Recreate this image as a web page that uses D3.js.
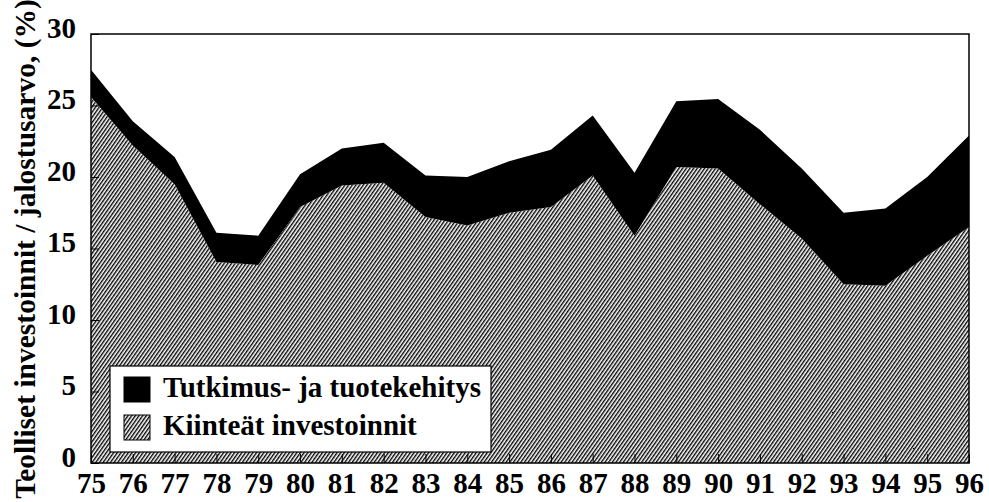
<!DOCTYPE html>
<html>
<head>
<meta charset="utf-8">
<script src="https://d3js.org/d3.v7.min.js"></script>
<style>
  body { margin: 0; background: #fff; }
  text { font-family: "Liberation Serif", "Times New Roman", serif; font-weight: bold; }
</style>
</head>
<body>
<div id="chart"></div>
<script>
// values (% of value added)
var years = [75, 76, 77, 78, 79, 80, 81, 82, 83, 84, 85, 86, 87, 88, 89, 90, 91, 92, 93, 94, 95, 96];
var fixedInv = [25.6, 22.2, 19.5, 14.05, 13.85, 17.9, 19.4, 19.6, 17.2, 16.6, 17.5, 17.9, 20.1, 15.9, 20.7, 20.6, 18.1, 15.7, 12.5, 12.4, 14.5, 16.5];
var rnd = [1.9, 1.7, 1.9, 2.05, 2.05, 2.3, 2.6, 2.8, 2.9, 3.4, 3.6, 4.0, 4.2, 4.4, 4.6, 4.85, 5.2, 4.9, 5.0, 5.4, 5.5, 6.4];
var yTicks = [0, 5, 10, 15, 20, 25, 30];
var seriesNames = ["Tutkimus- ja tuotekehitys", "Kiinteät investoinnit"];

var W = 989, H = 502;
var margin = {top: 34, right: 20, bottom: 39, left: 91};
var width = W - margin.left - margin.right,
    height = H - margin.top - margin.bottom;

var svg = d3.select("#chart").append("svg")
    .attr("width", W).attr("height", H);

var defs = svg.append("defs");
var pat = defs.append("pattern")
    .attr("id", "hatch")
    .attr("patternUnits", "userSpaceOnUse")
    .attr("width", 3).attr("height", 6)
    .attr("patternTransform", "rotate(35)");
pat.append("rect").attr("width", 3).attr("height", 6).attr("fill", "#fff");
pat.append("line")
    .attr("x1", 0.7).attr("x2", 0.7).attr("y1", 0).attr("y2", 6)
    .attr("stroke", "#000").attr("stroke-width", 1.4);

var g = svg.append("g")
    .attr("transform", "translate(" + margin.left + "," + margin.top + ")");

var x = d3.scaleLinear().domain([75, 96]).range([0, width]);
var y = d3.scaleLinear().domain([0, 30]).range([height, 0]);

var rows = years.map(function(d, i) { return {year: d, fixed: fixedInv[i], rnd: rnd[i]}; });
var stack = d3.stack().keys(["fixed", "rnd"]);
var layers = stack(rows);

var area = d3.area()
    .x(function(d) { return x(d.data.year); })
    .y0(function(d) { return y(d[0]); })
    .y1(function(d) { return y(d[1]); });

g.selectAll(".layer")
  .data(layers)
  .enter().append("path")
    .attr("class", "layer")
    .attr("d", area)
    .attr("fill", function(d) { return d.key === "fixed" ? "url(#hatch)" : "#000"; });

// frame
g.append("rect")
    .attr("width", width).attr("height", height)
    .attr("fill", "none").attr("stroke", "#000").attr("stroke-width", 1.5);

// axes with inward ticks
var xAxis = g.append("g")
    .attr("transform", "translate(0," + height + ")")
    .call(d3.axisBottom(x).tickValues(years).tickSize(-9).tickPadding(9).tickFormat(d3.format("d")));
xAxis.select(".domain").remove();
xAxis.attr("font-size", 29).attr("font-family", null);
xAxis.selectAll("text").attr("fill", "#000");

var yAxis = g.append("g")
    .call(d3.axisLeft(y).tickValues(yTicks).tickSize(-8).tickPadding(15));
yAxis.select(".domain").remove();
yAxis.attr("font-size", 29).attr("font-family", null);
yAxis.selectAll("text").attr("fill", "#000").attr("dy", "0.12em");

svg.append("text")
    .attr("transform", "translate(35," + (H / 2 - 2) + ") rotate(-90)")
    .attr("text-anchor", "middle")
    .attr("font-size", 29.5)
    .text("Teolliset investoinnit / jalostusarvo, (%)");

// legend
var leg = svg.append("g").attr("transform", "translate(110,366)");
leg.append("rect")
    .attr("width", 381).attr("height", 86)
    .attr("fill", "#fff").attr("stroke", "#000").attr("stroke-width", 1.2);
var items = leg.selectAll(".item")
    .data(seriesNames)
    .enter().append("g")
    .attr("transform", function(d, i) { return "translate(14," + (11 + i * 38) + ")"; });
items.append("rect")
    .attr("width", 26).attr("height", 25)
    .attr("fill", function(d, i) { return i === 0 ? "#000" : "url(#hatch)"; })
    .attr("stroke", "#000").attr("stroke-width", 1);
items.append("text")
    .attr("x", 39).attr("y", 20)
    .attr("font-size", 29)
    .text(function(d) { return d; });
</script>
</body>
</html>
